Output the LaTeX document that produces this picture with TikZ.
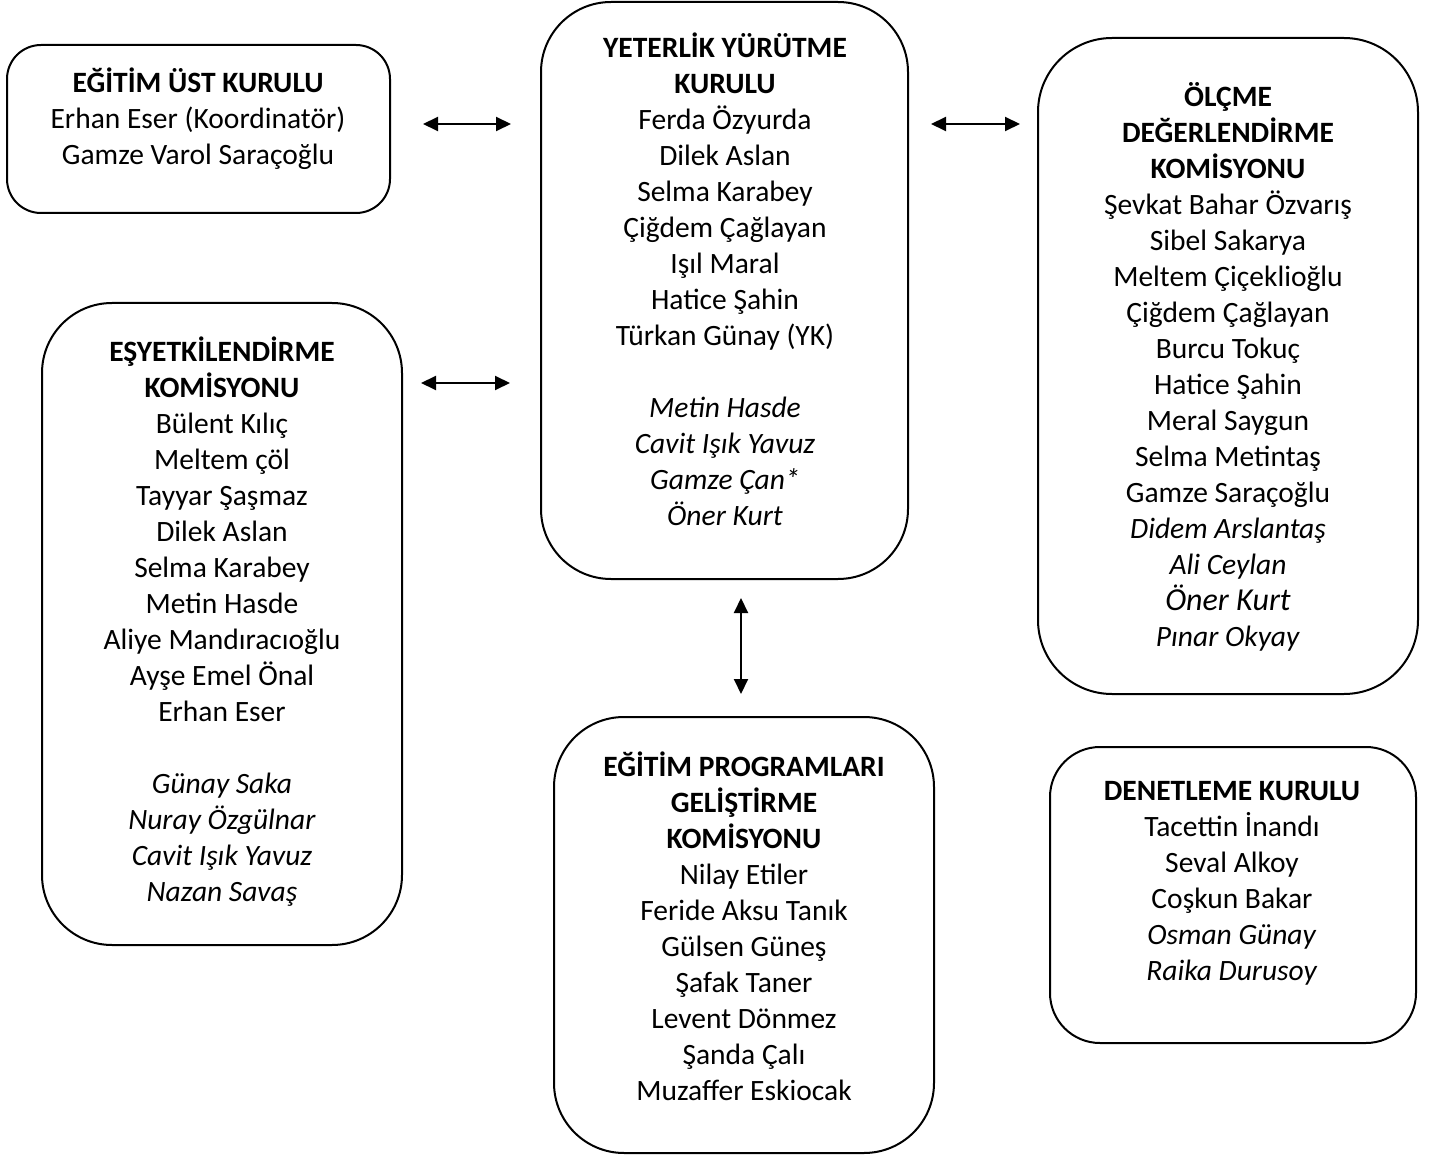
\documentclass[tikz,border=0pt]{standalone}
\usepackage{fontspec}
\setmainfont{Carlito}
\usetikzlibrary{arrows.meta,fit}
\begin{document}
\begin{tikzpicture}[x=0.5pt,y=-0.5pt,
  box/.style={draw=black, line width=1pt, inner sep=0pt, rounded corners=#1},
  txt/.style={anchor=north, align=center, inner sep=0pt, font=\fontsize{14.75}{18}\selectfont},
  link/.style={line width=1pt, {Triangle[length=7.5pt,width=7pt]}-{Triangle[length=7.5pt,width=7pt]}}]
\useasboundingbox (0,0) rectangle (1431,1155);

% boxes
\node[box=17pt, fit={(7,45) (390,213)}] (ust) {};
\node[box=35pt, fit={(541,2) (908,579)}] (yet) {};
\node[box=37pt, fit={(1038,38) (1418,694)}] (olc) {};
\node[box=35pt, fit={(42,303) (402,945)}] (esy) {};
\node[box=35pt, fit={(554,717) (934,1153)}] (egp) {};
\node[box=25pt, fit={(1050,747) (1416,1043)}] (den) {};

% texts
\node[txt] (tust) at (198,67) {\strut\textbf{EĞİTİM ÜST KURULU}\\Erhan Eser (Koordinatör)\\Gamze Varol Saraçoğlu};

\node[txt] (tyet) at (725,32) {\strut\textbf{YETERLİK YÜRÜTME}\\\textbf{KURULU}\\Ferda Özyurda\\Dilek Aslan\\Selma Karabey\\Çiğdem Çağlayan\\Işıl Maral\\Hatice Şahin\\Türkan Günay (YK)\\[18pt]\textit{Metin Hasde}\\\textit{Cavit Işık Yavuz}\\\textit{Gamze Çan*}\\\textit{Öner Kurt}};

\node[txt] (tolc) at (1228,81) {\strut\textbf{ÖLÇME}\\\textbf{DEĞERLENDİRME}\\\textbf{KOMİSYONU}\\Şevkat Bahar Özvarış\\Sibel Sakarya\\Meltem Çiçeklioğlu\\Çiğdem Çağlayan\\Burcu Tokuç\\Hatice Şahin\\Meral Saygun\\Selma Metintaş\\Gamze Saraçoğlu\\\textit{Didem Arslantaş}\\\textit{Ali Ceylan}\\{\fontsize{16}{19}\selectfont\textit{Öner Kurt}}\\\textit{Pınar Okyay}};

\node[txt] (tesy) at (222,336) {\strut\textbf{EŞYETKİLENDİRME}\\\textbf{KOMİSYONU}\\Bülent Kılıç\\Meltem çöl\\Tayyar Şaşmaz\\Dilek Aslan\\Selma Karabey\\Metin Hasde\\Aliye Mandıracıoğlu\\Ayşe Emel Önal\\Erhan Eser\\[18pt]\textit{Günay Saka}\\\textit{Nuray Özgülnar}\\\textit{Cavit Işık Yavuz}\\\textit{Nazan Savaş}};

\node[txt] (tegp) at (744,751) {\strut\textbf{EĞİTİM PROGRAMLARI}\\\textbf{GELİŞTİRME}\\\textbf{KOMİSYONU}\\Nilay Etiler\\Feride Aksu Tanık\\Gülsen Güneş\\Şafak Taner\\Levent Dönmez\\Şanda Çalı\\Muzaffer Eskiocak};

\node[txt] (tden) at (1232,775) {\strut\textbf{DENETLEME KURULU}\\Tacettin İnandı\\Seval Alkoy\\Coşkun Bakar\\\textit{Osman Günay}\\\textit{Raika Durusoy}};

% connectors
\coordinate (a1l) at (423,124); \coordinate (a1r) at (511,124);
\coordinate (a2l) at (931,124); \coordinate (a2r) at (1020,124);
\coordinate (a3l) at (421,383); \coordinate (a3r) at (510,383);
\coordinate (a4t) at (741,598); \coordinate (a4b) at (741,694);
\draw[link] (a1l) -- (a1r);
\draw[link] (a2l) -- (a2r);
\draw[link] (a3l) -- (a3r);
\draw[link] (a4t) -- (a4b);
\end{tikzpicture}
\end{document}
